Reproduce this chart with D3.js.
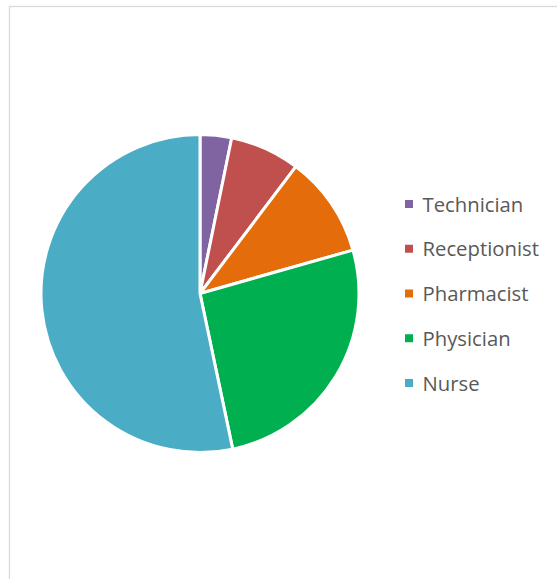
<!DOCTYPE html>
<html>
<head>
<meta charset="utf-8">
<script src="https://cdn.jsdelivr.net/npm/d3@7"></script>
<style>
  html, body { margin: 0; padding: 0; background: #fff; }
  svg { display: block; }
</style>
</head>
<body>
<svg id="chart" width="557" height="579"></svg>
<script>
// Staff roles and their share of the sample (%)
const roles = ["Technician", "Receptionist", "Pharmacist", "Physician", "Nurse"];
const shares = [3.2, 7.1, 10.3, 26.1, 53.3];
const roleColors = ["#8064a2", "#c0504d", "#e46c0a", "#00b050", "#4bacc6"];

const svg = d3.select("#chart");

// chart frame
svg.append("rect")
  .attr("x", 9.5).attr("y", 6.5)
  .attr("width", 600).attr("height", 600)
  .attr("fill", "#fff")
  .attr("stroke", "#d9d9d9")
  .attr("stroke-width", 1.3);

const cx = 200, cy = 293.5, radius = 159;

const color = d3.scaleOrdinal().domain(roles).range(roleColors);

const pie = d3.pie().sort(null).value(d => d.value);
const arc = d3.arc().innerRadius(0).outerRadius(radius);

const data = roles.map((r, i) => ({ role: r, value: shares[i] }));

svg.append("g")
  .attr("transform", `translate(${cx},${cy})`)
  .selectAll("path")
  .data(pie(data))
  .join("path")
  .attr("d", arc)
  .attr("fill", d => color(d.data.role))
  .attr("stroke", "#fff")
  .attr("stroke-width", 3)
  .attr("stroke-linejoin", "round");

// legend
const legendY = d3.scalePoint().domain(roles).range([204, 383]);
const legend = svg.append("g")
  .selectAll("g")
  .data(roles)
  .join("g")
  .attr("transform", d => `translate(405,${legendY(d)})`);

legend.append("rect")
  .attr("x", 0).attr("y", -4)
  .attr("width", 8).attr("height", 8)
  .attr("fill", d => color(d));

legend.append("text")
  .attr("x", 17.5).attr("y", 7.5)
  .attr("font-family", "'Open Sans', sans-serif")
  .attr("font-size", 20.3)
  .attr("fill", "#595959")
  .text(d => d);
</script>
</body>
</html>
